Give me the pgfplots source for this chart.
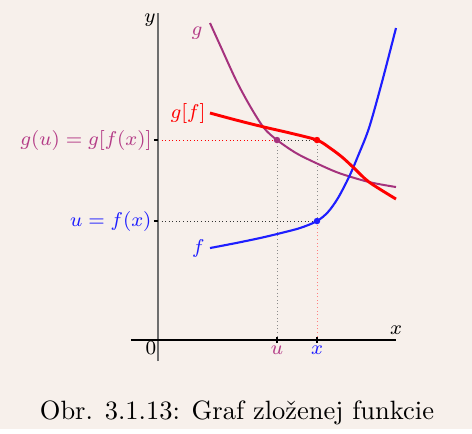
\documentclass[border=0pt]{standalone}
\usepackage{pgfplots}
\pgfplotsset{compat=1.18}
\definecolor{bg}{RGB}{247,240,235}
\definecolor{gcol}{RGB}{165,50,125}
\definecolor{glab}{RGB}{180,60,135}
\definecolor{fcol}{RGB}{30,30,255}
\definecolor{axgray}{RGB}{110,110,110}
\newcommand{\lab}[1]{\scalebox{0.94}{#1}}
\begin{document}
\begin{tikzpicture}
\begin{axis}[
    scale only axis,
    width=178.1pt, height=161.9pt,
    xmin=-158, xmax=314, ymin=-89, ymax=340,
    axis lines=none,
    axis background/.style={fill=bg},
    clip=false,
    every axis plot/.append style={no markers},
    font=\footnotesize,
]
% helper lines
\addplot[red, densely dotted, line width=0.35pt] coordinates {(0,200) (119,200)};
\addplot[black!80, densely dotted, line width=0.35pt] coordinates {(119,200) (159,200)};
\addplot[black!80, densely dotted, line width=0.35pt] coordinates {(0,119) (159,119)};
\addplot[black!45, densely dotted, line width=0.35pt] coordinates {(119,0) (119,200)};
\addplot[black!45, densely dotted, line width=0.35pt] coordinates {(159,119) (159,200)};
\addplot[red!50, densely dotted, line width=0.35pt] coordinates {(159,0) (159,119)};
% axes
\addplot[axgray, line width=0.7pt] coordinates {(0,-21) (0,327)};
\addplot[black, line width=0.6pt] coordinates {(-27,0) (238,0)};
\addplot[black, line width=0.5pt] coordinates {(-4,200) (0,200)};
\addplot[black, line width=0.5pt] coordinates {(-4,119) (0,119)};
\addplot[black, line width=0.5pt] coordinates {(119,-3) (119,3)};
\addplot[black, line width=0.5pt] coordinates {(159,-3) (159,3)};
% g
\addplot[gcol, line width=0.75pt, smooth] coordinates {
    (52,317) (62,295) (78,260) (92,234) (106,212) (119,200) (138,187)
    (158,177) (181,167) (211,158) (238,153)};
% f
\addplot[fcol, line width=0.8pt, smooth] coordinates {
    (52,92) (78,97) (102,102) (119,106) (142,112) (159,119) (170,128)
    (180,142) (191,163) (200,184) (211,212) (224,258) (238,312)};
% g[f]
\addplot[red, line width=1.1pt, smooth] coordinates {
    (52,227) (78,220) (106,213) (132,207) (159,200) (172,192)
    (184,183) (196,172) (211,158) (238,141)};
% points
\addplot[only marks, mark=*, mark size=1pt, gcol] coordinates {(119,200)};
\addplot[only marks, mark=*, mark size=1pt, red] coordinates {(159,200)};
\addplot[only marks, mark=*, mark size=1pt, fcol] coordinates {(159,119)};
% labels
\node[anchor=east, inner sep=0pt, text=glab] at (axis cs:-6,200) {\lab{$g(u)=g[f(x)]$}};
\node[anchor=east, inner sep=0pt, text=fcol] at (axis cs:-6,119) {\lab{$u=f(x)$}};
\node[text=glab] at (axis cs:39,307) {\lab{$g$}};
\node[anchor=east, inner sep=0pt, text=red] at (axis cs:48,227) {\lab{$g[f]$}};
\node[anchor=east, inner sep=0pt, text=fcol] at (axis cs:47,92) {\lab{$f$}};
\node at (axis cs:-8,320) {\lab{$y$}};
\node at (axis cs:238,10) {\lab{$x$}};
\node at (axis cs:-7,-8) {\lab{$0$}};
\node[text=glab] at (axis cs:119,-10) {\lab{$u$}};
\node[text=fcol] at (axis cs:159,-10) {\lab{$x$}};
\node[font=\normalsize] at (axis cs:79,-73) {Obr. 3.1.13: Graf zloženej funkcie};
\end{axis}
\end{tikzpicture}
\end{document}
